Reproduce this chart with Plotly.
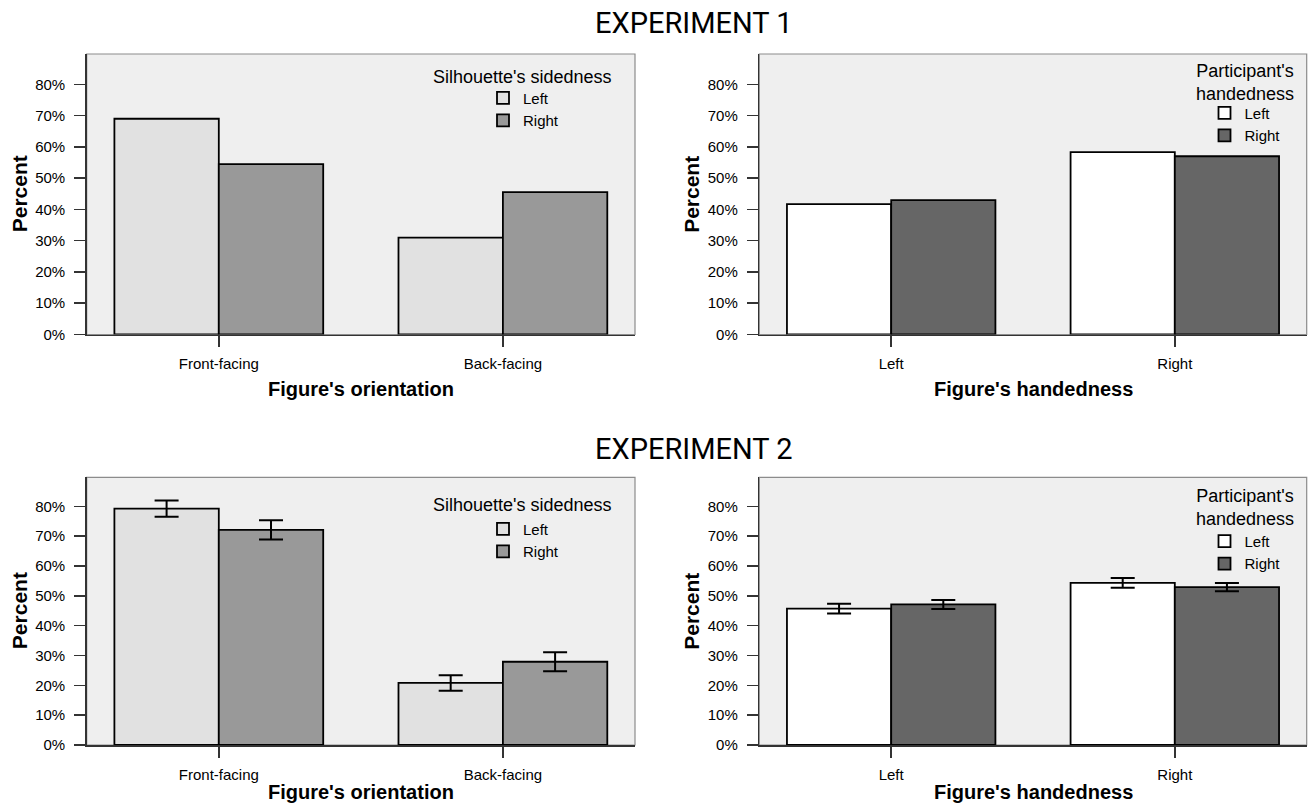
import plotly.graph_objects as go

# ---------------- data ----------------
orient_cats = ["Front-facing", "Back-facing"]
hand_cats = ["Left", "Right"]

exp1_sided_left = [69.0, 31.0]
exp1_sided_right = [54.5, 45.5]
exp1_part_left = [41.7, 58.3]
exp1_part_right = [43.0, 57.0]

exp2_sided_left = [79.2, 20.8]
exp2_sided_left_err = [2.7, 2.6]
exp2_sided_right = [72.1, 27.9]
exp2_sided_right_err = [3.2, 3.2]
exp2_part_left = [45.7, 54.3]
exp2_part_left_err = [1.6, 1.65]
exp2_part_right = [47.1, 52.9]
exp2_part_right_err = [1.5, 1.4]

y_ticks = [0, 10, 20, 30, 40, 50, 60, 70, 80]
y_ticktext = [f"{v}%" for v in y_ticks]

# ---------------- layout helpers ----------------
W, H = 1311, 811
# the photographed page is compressed slightly in height (811 -> ~803),
# so vertical positions are pre-stretched by this factor
SY = 811 / 803
FONT = "Liberation Sans, Arial, sans-serif"


def fx(px):
    return px / W


def fy(py, stretch=True):
    return 1 - (py * SY if stretch else py) / H


XL = [86.7, 635.0]
XR = [759.3, 1306.7]
YT = [54.0, 334.5]
YB = [477.3, 745.0]

C_LIGHT = "#e1e1e1"
C_MID = "#999999"
C_WHITE = "#ffffff"
C_DARK = "#666666"

fig = go.Figure()


def bar(name, cats, vals, color, xa, ya, legend, err=None, show=True):
    kw = {}
    if err is not None:
        kw["error_y"] = dict(type="data", array=err, color="black",
                             thickness=2, width=12)
    fig.add_trace(go.Bar(
        name=name, x=cats, y=vals, xaxis=xa, yaxis=ya,
        marker=dict(color=color, line=dict(color="black", width=1.8)),
        legend=legend, showlegend=show, **kw))


bar("Left", orient_cats, exp1_sided_left, C_LIGHT, "x", "y", "legend")
bar("Right", orient_cats, exp1_sided_right, C_MID, "x", "y", "legend")
bar("Left", hand_cats, exp1_part_left, C_WHITE, "x2", "y2", "legend2")
bar("Right", hand_cats, exp1_part_right, C_DARK, "x2", "y2", "legend2")
bar("Left", orient_cats, exp2_sided_left, C_LIGHT, "x3", "y3", "legend3", exp2_sided_left_err)
bar("Right", orient_cats, exp2_sided_right, C_MID, "x3", "y3", "legend3", exp2_sided_right_err)
bar("Left", hand_cats, exp2_part_left, C_WHITE, "x4", "y4", "legend4", exp2_part_left_err)
bar("Right", hand_cats, exp2_part_right, C_DARK, "x4", "y4", "legend4", exp2_part_right_err)


def xaxis(dom, anchor):
    return dict(domain=[fx(dom[0]), fx(dom[1])], anchor=anchor, type="category",
                range=[-0.465, 1.465], showline=True, linecolor="#333333", linewidth=1.5,
                ticks="outside", ticklen=11, tickwidth=1.5, tickcolor="#333333",
                ticklabelstandoff=4,
                tickfont=dict(family=FONT, size=15, color="black"),
                showgrid=False, zeroline=False, fixedrange=True)


def yaxis(dom, anchor):
    return dict(domain=[fy(dom[1]), fy(dom[0])], anchor=anchor, range=[0, 89.7],
                tickmode="array", tickvals=y_ticks, ticktext=y_ticktext,
                showline=True, linecolor="#333333",
                linewidth=1.5, ticks="outside", ticklen=11, tickwidth=1.5,
                tickcolor="#333333", ticklabelstandoff=6,
                tickfont=dict(family=FONT, size=15, color="black"),
                showgrid=False, zeroline=False, fixedrange=True)


def legend(sym_x, item_y):
    return dict(x=fx(sym_x - 20), y=fy(item_y - 15.7), xanchor="left", yanchor="top",
                bgcolor="rgba(0,0,0,0)", borderwidth=0, tracegroupgap=0,
                font=dict(family=FONT, size=15, color="black"), itemclick=False)


annotations = []


def ann(text, x, y, size, bold=False, angle=0, family=FONT, stretch=True):
    annotations.append(dict(
        text=f"<b>{text}</b>" if bold else text, x=fx(x), y=fy(y, stretch),
        xref="paper", yref="paper",
        showarrow=False, xanchor="center", yanchor="middle", textangle=angle,
        font=dict(family=family, size=size, color="black")))


ann("EXPERIMENT 1", 693.5, 23, 29, family="Roboto, Liberation Sans, sans-serif")
ann("EXPERIMENT 2", 693.5, 449, 29, family="Roboto, Liberation Sans, sans-serif")
for (xd, yd) in [(XL, YT), (XR, YT), (XL, YB), (XR, YB)]:
    ann("Percent", xd[0] - 67.7, (yd[0] + yd[1]) / 2, 21, bold=True, angle=-90)
ann("Figure's orientation", sum(XL) / 2, 389, 20, bold=True)
ann("Figure's handedness", sum(XR) / 2, 389, 20, bold=True)
ann("Figure's orientation", sum(XL) / 2, 800, 20, bold=True, stretch=False)
ann("Figure's handedness", sum(XR) / 2, 800, 20, bold=True, stretch=False)
ann("Silhouette's sidedness", 522.5, 76.7, 18)
ann("Silhouette's sidedness", 522.5, 505, 18)
ann("Participant's<br>handedness", 1245, 82.5, 18)
ann("Participant's<br>handedness", 1245, 507, 18)

shapes = []
for xr, yr in [("x", "y"), ("x2", "y2"), ("x3", "y3"), ("x4", "y4")]:
    shapes.append(dict(type="rect", xref=f"{xr} domain", yref=f"{yr} domain",
                       x0=0, x1=1, y0=0, y1=1, line=dict(color="#8c8c8c", width=1.2),
                       fillcolor="rgba(0,0,0,0)", layer="below"))

fig.update_layout(
    width=W, height=H, margin=dict(l=0, r=0, t=0, b=0),
    paper_bgcolor="white", plot_bgcolor="#efefef",
    barmode="group", bargap=0.265, bargroupgap=0,
    xaxis=xaxis(XL, "y"), yaxis=yaxis(YT, "x"),
    xaxis2=xaxis(XR, "y2"), yaxis2=yaxis(YT, "x2"),
    xaxis3=xaxis(XL, "y3"), yaxis3=yaxis(YB, "x3"),
    xaxis4=xaxis(XR, "y4"), yaxis4=yaxis(YB, "x4"),
    legend=legend(503, 97.3),
    legend2=legend(1224.5, 112.3),
    legend3=legend(503, 528.3),
    legend4=legend(1224.5, 540.5),
    annotations=annotations, shapes=shapes,
    font=dict(family=FONT, color="black"),
)

# remove the default 8px page margin so the figure fills the window exactly
fig.write_html("out.html",
               config={"displayModeBar": False, "staticPlot": True},
               post_script="document.body.style.margin='0px';document.body.style.overflow='hidden';")
